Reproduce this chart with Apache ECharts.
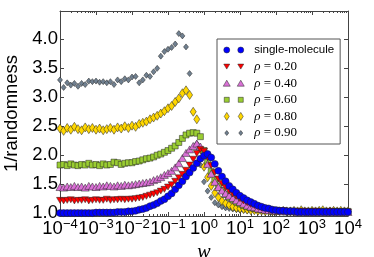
<!DOCTYPE html>
<html><head><meta charset="utf-8">
<script src="https://cdn.jsdelivr.net/npm/echarts@6/dist/echarts.min.js"></script>
<style>html,body{margin:0;padding:0;background:#fff}#c{width:374px;height:257px}</style>
</head><body><div id="c"></div>
<script>
// log10(w) sample positions
const logW = [-4.0,-3.9,-3.8,-3.7,-3.6,-3.5,-3.4,-3.3,-3.2,-3.1,-3.0,-2.9,-2.8,-2.7,-2.6,-2.5,-2.4,-2.3,-2.2,-2.1,
  -2.0,-1.9,-1.8,-1.7,-1.6,-1.5,-1.4,-1.3,-1.2,-1.1,-1.0,-0.9,-0.8,-0.7,-0.6,-0.5,-0.4,-0.3,-0.2,-0.1,
  0.0,0.1,0.2,0.3,0.4,0.5,0.6,0.7,0.8,0.9,1.0,1.1,1.2,1.3,1.4,1.5,1.6,1.7,1.8,1.9,2.0,
  2.1,2.2,2.3,2.4,2.5,2.6,2.7,2.8,2.9,3.0,3.1,3.2,3.3,3.4,3.5,3.6,3.7,3.8,3.9,4.0];

const singleMolecule = [1.00,1.00,1.00,1.00,1.00,1.00,1.00,1.00,1.00,1.00,1.01,1.01,1.01,1.01,1.01,1.01,1.02,1.02,1.02,1.03,
  1.03,1.04,1.06,1.07,1.09,1.12,1.14,1.17,1.21,1.24,1.29,1.34,1.41,1.48,1.55,1.63,1.70,1.78,1.86,1.94,
  1.99,2.02,1.96,1.85,1.73,1.63,1.55,1.47,1.41,1.35,1.30,1.26,1.22,1.19,1.16,1.13,1.11,1.09,1.08,1.06,1.05,
  1.04,1.04,1.03,1.03,1.03,1.02,1.02,1.02,1.02,1.02,1.02,1.02,1.02,1.02,1.02,1.02,1.02,1.02,1.02,1.02];

const rho020 = [1.22,1.21,1.22,1.23,1.21,1.22,1.22,1.23,1.21,1.22,1.23,1.22,1.22,1.24,1.22,1.23,1.23,1.24,1.23,1.24,
  1.24,1.25,1.26,1.27,1.29,1.31,1.33,1.35,1.38,1.41,1.45,1.49,1.55,1.61,1.67,1.74,1.83,1.93,2.03,2.10,
  2.07,1.96,1.82,1.70,1.59,1.51,1.44,1.38,1.33,1.29,1.25,1.21,1.18,1.15,1.13,1.11,1.09,1.08,1.06,1.05,1.05,
  1.04,1.04,1.03,1.03,1.03,1.03,1.02,1.03,1.02,1.02,1.03,1.02,1.02,1.02,1.03,1.02,1.02,1.02,1.02,1.02];

const rho040 = [1.45,1.44,1.46,1.45,1.47,1.45,1.46,1.44,1.47,1.46,1.45,1.47,1.46,1.48,1.47,1.46,1.48,1.47,1.49,1.48,
  1.49,1.50,1.51,1.52,1.53,1.54,1.57,1.59,1.62,1.66,1.69,1.73,1.79,1.86,1.95,2.04,2.10,2.16,2.20,2.15,
  2.02,1.85,1.68,1.54,1.45,1.39,1.34,1.30,1.26,1.22,1.19,1.16,1.13,1.11,1.10,1.08,1.07,1.06,1.05,1.05,1.04,
  1.04,1.03,1.03,1.03,1.03,1.02,1.03,1.02,1.03,1.02,1.02,1.03,1.02,1.02,1.03,1.02,1.02,1.02,1.03,1.02];

const rho060 = [1.83,1.84,1.82,1.85,1.83,1.82,1.84,1.83,1.86,1.83,1.84,1.82,1.85,1.83,1.84,1.88,1.87,1.84,1.86,1.87,
  1.87,1.89,1.90,1.92,1.94,1.95,1.97,2.00,2.02,2.05,2.08,2.12,2.16,2.22,2.29,2.35,2.38,2.39,2.38,2.32,
  2.08,1.88,1.72,1.58,1.47,1.39,1.32,1.27,1.23,1.19,1.16,1.13,1.11,1.09,1.08,1.07,1.06,1.05,1.05,1.04,1.04,
  1.03,1.04,1.03,1.03,1.03,1.02,1.03,1.03,1.02,1.03,1.03,1.02,1.03,1.03,1.02,1.03,1.03,1.02,1.03,1.03];

const rho080 = [2.46,2.42,2.47,2.44,2.49,2.45,2.43,2.48,2.45,2.47,2.44,2.46,2.43,2.45,2.47,2.44,2.48,2.46,2.50,2.47,
  2.51,2.49,2.54,2.56,2.58,2.62,2.65,2.68,2.72,2.76,2.81,2.85,2.92,2.98,3.07,3.12,3.04,2.75,2.62,2.10,
  1.80,1.62,1.47,1.35,1.27,1.21,1.17,1.14,1.11,1.09,1.08,1.07,1.06,1.05,1.05,1.04,1.04,1.03,1.04,1.03,1.03,
  1.03,1.04,1.03,1.03,1.04,1.03,1.05,1.03,1.03,1.04,1.03,1.04,1.05,1.03,1.03,1.04,1.03,1.04,1.03,1.03];

const rho090 = [3.30,3.17,3.25,3.21,3.24,3.19,3.24,3.22,3.28,3.27,3.28,3.26,3.27,3.25,3.27,3.22,3.30,3.27,3.32,3.30,
  3.35,3.36,3.25,3.30,3.38,3.36,3.44,3.50,3.71,3.79,3.83,3.86,3.92,4.10,4.06,3.87,3.41,2.75,2.20,1.83,
  1.54,1.38,1.27,1.18,1.14,1.11,1.09,1.08,1.07,1.06,1.05,1.05,1.04,1.05,1.04,1.03,1.04,1.03,1.04,1.03,1.03,
  1.04,1.03,1.03,1.05,1.03,1.04,1.03,1.04,1.03,1.05,1.03,1.04,1.03,1.03,1.05,1.03,1.04,1.03,1.04,1.03];

const seriesNames = ['single-molecule', 'ρ=0.20', 'ρ=0.40', 'ρ=0.60', 'ρ=0.80', 'ρ=0.90'];
const xTickExps = [-4, -3, -2, -1, 0, 1, 2, 3, 4];
const yTickValues = [1.0, 1.5, 2.0, 2.5, 3.0, 3.5, 4.0];
const xName = 'w';
const yName = '1/randomness';

const majorX = xTickExps.map(e => Math.pow(10, e));
const minorX = [];
for (let e = -4; e < 4; e++) for (let m = 2; m <= 9; m++) minorX.push(m * Math.pow(10, e));

// legend icons: two markers inside a fixed 21x9 box (corner moveTo points fix the bounds)
const box = 'M0,0M21,9';
const styles = [
  { symbol: 'circle', size: 7, color: '#0000ff',
    icon: 'path://' + box + 'M0.5,4.5a3,3 0 1,0 6,0a3,3 0 1,0 -6,0zM14.5,4.5a3,3 0 1,0 6,0a3,3 0 1,0 -6,0z' },
  { symbol: 'path://M0,0L8,0L4,7z', size: [7, 6], color: '#ff0000',
    icon: 'path://' + box + 'M0.5,2L6.5,2L3.5,7zM14.5,2L20.5,2L17.5,7z' },
  { symbol: 'triangle', size: [8, 7], color: '#da70d6',
    icon: 'path://' + box + 'M3.5,1.5L7,7.5L0,7.5zM17.5,1.5L21,7.5L14,7.5z' },
  { symbol: 'rect', size: 6, color: '#9acd32',
    icon: 'path://' + box + 'M1,2h5v5h-5zM15,2h5v5h-5z' },
  { symbol: 'diamond', size: [6, 9], color: '#ffd700',
    icon: 'path://' + box + 'M3.5,0.5L6,4.5L3.5,8.5L1,4.5zM17.5,0.5L20,4.5L17.5,8.5L15,4.5z' },
  { symbol: 'diamond', size: [5, 6], color: '#708090',
    icon: 'path://' + box + 'M3.5,2L5.5,4.5L3.5,7L1.5,4.5zM17.5,2L19.5,4.5L17.5,7L15.5,4.5z' }
];
const values = [singleMolecule, rho020, rho040, rho060, rho080, rho090];

const series = [];
for (let i = values.length - 1; i >= 0; i--) {
  const st = styles[i];
  series.push({
    name: seriesNames[i], type: 'scatter', xAxisIndex: 0, yAxisIndex: 0,
    symbol: st.symbol, symbolSize: st.size,
    itemStyle: { color: st.color, borderColor: '#222', borderWidth: 0.5, opacity: 1 },
    emphasis: { disabled: true },
    data: logW.map((e, k) => [Math.pow(10, e), values[i][k]])
  });
}

const frame = { lineStyle: { color: '#444', width: 1 } };
const fmtX = v => {
  const e = Math.round(Math.log10(v));
  return '{b|10}{s|' + (e < 0 ? '\u2212' + (-e) : String(e)) + '}';
};
const xCommon = { type: 'log', logBase: 10, min: 1e-4, max: 1e4, splitLine: { show: false }, minorTick: { show: false } };

const option = {
  animation: false,
  backgroundColor: '#fff',
  grid: { left: 60, right: 26, top: 11, bottom: 41, containLabel: false, outerBoundsMode: 'none' },
  xAxis: [
    Object.assign({}, xCommon, {
      position: 'bottom',
      axisLine: Object.assign({ show: true }, frame),
      axisTick: { show: true, inside: true, length: 4, customValues: majorX, lineStyle: { color: '#444' } },
      axisLabel: { show: true, customValues: majorX, formatter: fmtX, margin: 2,
        rich: {
          b: { fontFamily: 'Liberation Sans', fontSize: 18.5, color: '#000', lineHeight: 20, verticalAlign: 'bottom' },
          s: { fontFamily: 'Liberation Sans', fontSize: 13, color: '#000', lineHeight: 13, verticalAlign: 'top' }
        } },
      name: xName, nameLocation: 'middle', nameGap: 16,
      nameTextStyle: { fontFamily: 'Liberation Serif', fontStyle: 'italic', fontSize: 20, color: '#000' }
    }),
    Object.assign({}, xCommon, {
      position: 'bottom', axisLine: { show: false },
      axisTick: { show: true, inside: true, length: 2, customValues: minorX, lineStyle: { color: '#444' } },
      axisLabel: { show: false }
    }),
    Object.assign({}, xCommon, {
      position: 'top', axisLine: Object.assign({ show: true }, frame),
      axisTick: { show: true, inside: true, length: 4, customValues: majorX, lineStyle: { color: '#444' } },
      axisLabel: { show: false }
    }),
    Object.assign({}, xCommon, {
      position: 'top', axisLine: { show: false },
      axisTick: { show: true, inside: true, length: 2, customValues: minorX, lineStyle: { color: '#444' } },
      axisLabel: { show: false }
    })
  ],
  yAxis: [
    {
      type: 'value', position: 'left', min: 0.95, max: 4.49, splitLine: { show: false },
      axisLine: Object.assign({ show: true }, frame),
      axisTick: { show: true, inside: true, length: 4, customValues: yTickValues, lineStyle: { color: '#444' } },
      axisLabel: { show: true, customValues: yTickValues, formatter: v => v.toFixed(1), margin: 2,
        fontFamily: 'Liberation Sans', fontSize: 18.5, color: '#000' },
      name: yName, nameLocation: 'middle', nameGap: 22,
      nameTextStyle: { fontFamily: 'Liberation Sans', fontSize: 18.5, color: '#000' }
    },
    {
      type: 'value', position: 'right', min: 0.95, max: 4.49, splitLine: { show: false },
      axisLine: Object.assign({ show: true }, frame),
      axisTick: { show: true, inside: true, length: 4, customValues: yTickValues, lineStyle: { color: '#444' } },
      axisLabel: { show: false }
    }
  ],
  legend: {
    orient: 'vertical', left: 217, top: 39,
    padding: [4, 6, 4, 6], itemGap: 2.6, itemWidth: 21, itemHeight: 14,
    backgroundColor: '#fff', borderColor: '#555', borderWidth: 1, borderRadius: 0,
    symbolRotate: 0, symbolKeepAspect: true, selectedMode: false,
    itemStyle: { borderWidth: 0.5, borderColor: '#222' },
    data: seriesNames.map((n, i) => ({ name: n, icon: styles[i].icon })),
    formatter: n => n === 'single-molecule' ? '{m|single-molecule}' : '{i|ρ}{n| = ' + n.slice(2) + '}',
    textStyle: {
      padding: [0, 0, 0, 5], lineHeight: 14,
      rich: {
        m: { fontFamily: 'Liberation Sans', fontSize: 11.5, color: '#000', lineHeight: 14 },
        i: { fontFamily: 'Liberation Serif', fontStyle: 'italic', fontSize: 13, color: '#000', lineHeight: 14 },
        n: { fontFamily: 'Liberation Serif', fontSize: 13, color: '#000', lineHeight: 14 }
      }
    }
  },
  series: series
};

const chart = echarts.init(document.getElementById('c'), null, { renderer: 'canvas' });
chart.setOption(option);
</script>
</body></html>
